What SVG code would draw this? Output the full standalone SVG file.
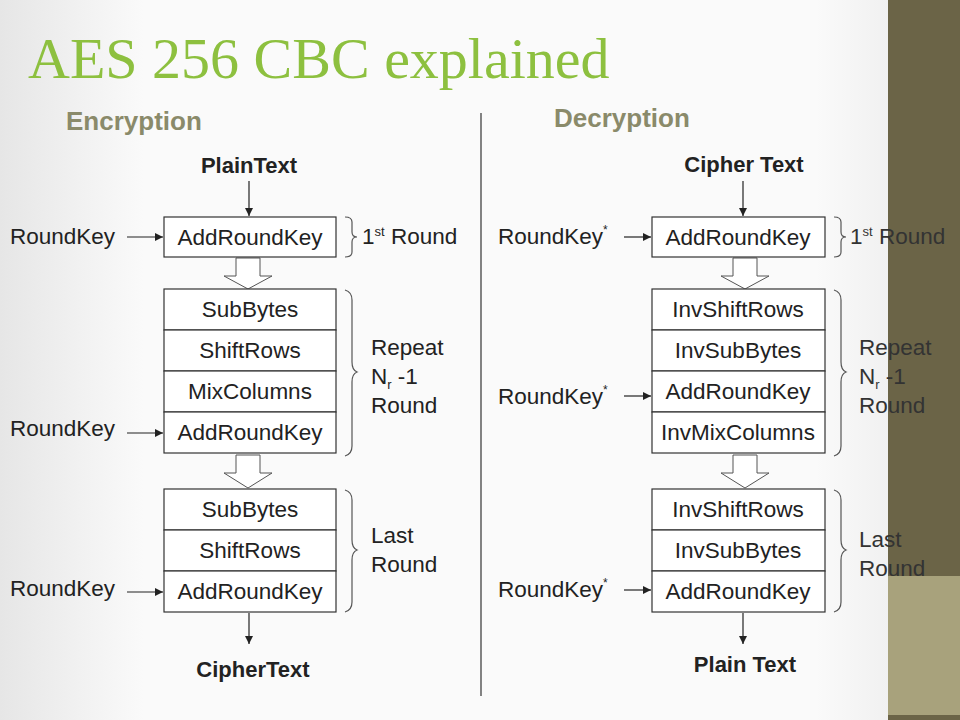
<svg xmlns="http://www.w3.org/2000/svg" width="960" height="720" viewBox="0 0 960 720" font-family="Liberation Sans, Arial, sans-serif">
<defs>
<linearGradient id="bg" x1="0" x2="1" y1="0" y2="0"><stop offset="0" stop-color="#e6e6e6"/><stop offset="0.15" stop-color="#fafafa"/><stop offset="0.85" stop-color="#fafafa"/><stop offset="1" stop-color="#e8e8e8"/></linearGradient>
<marker id="ah" viewBox="0 0 10 10" refX="10" refY="5" markerWidth="8" markerHeight="8" markerUnits="userSpaceOnUse" orient="auto"><path d="M0,0 L10,5 L0,10 z" fill="#222"/></marker>
</defs>
<style>
text{font-family:'Liberation Sans',Arial,sans-serif;fill:#222;font-size:22.5px}
.b{fill:#fff;stroke:#333;stroke-width:1.2}
.c{text-anchor:middle}
.h{font-weight:bold;font-size:22px}
.sec{font-weight:bold;font-size:26px;fill:#8a8a6a}
.br{fill:none;stroke:#555;stroke-width:1.2}
.ln{stroke:#222;stroke-width:1.2;fill:none}
.ha{fill:#fff;stroke:#555;stroke-width:1}
</style>
<rect width="960" height="720" fill="url(#bg)"/>
<rect x="888" y="0" width="72" height="576" fill="#6b6447"/>
<rect x="888" y="576" width="72" height="139" fill="#a8a27c"/>
<rect x="888" y="715" width="72" height="5" fill="#6b6447"/>
<text x="28" y="78" style="font-family:'Liberation Serif',serif;font-size:58px;fill:#8dc03f">AES 256 CBC explained</text>
<text x="66" y="130" class="sec">Encryption</text>
<text x="554" y="127" class="sec">Decryption</text>
<line x1="481" y1="113" x2="481" y2="696" stroke="#333" stroke-width="1.2"/>
<text x="249" y="173" class="c h">PlainText</text>
<text x="253" y="677" class="c h">CipherText</text>
<text x="744" y="172" class="c h">Cipher Text</text>
<text x="745" y="672" class="c h">Plain Text</text>
<g id="connectors">
<line class="ln" x1="249" y1="181" x2="249" y2="216" marker-end="url(#ah)"/>
<line class="ln" x1="249" y1="613" x2="249" y2="644" marker-end="url(#ah)"/>
<line class="ln" x1="743" y1="181" x2="743" y2="216" marker-end="url(#ah)"/>
<line class="ln" x1="743" y1="613" x2="743" y2="644" marker-end="url(#ah)"/>
<line class="ln" x1="127" y1="237" x2="163" y2="237" marker-end="url(#ah)"/>
<line class="ln" x1="127" y1="433" x2="163" y2="433" marker-end="url(#ah)"/>
<line class="ln" x1="127" y1="592" x2="163" y2="592" marker-end="url(#ah)"/>
<line class="ln" x1="624" y1="237" x2="651" y2="237" marker-end="url(#ah)"/>
<line class="ln" x1="624" y1="396" x2="651" y2="396" marker-end="url(#ah)"/>
<line class="ln" x1="624" y1="590" x2="651" y2="590" marker-end="url(#ah)"/>
<path class="ha" d="M236,258 V276 H224 L248,289 L272,276 H260 V258 Z"/>
<path class="ha" d="M236,455 V473 H224 L248,488 L272,473 H260 V455 Z"/>
<path class="ha" d="M733,258 V276 H721 L745,289 L769,276 H757 V258 Z"/>
<path class="ha" d="M733,455 V473 H721 L745,488 L769,473 H757 V455 Z"/>
</g>
<g id="enc-labels">
<text x="10" y="244">RoundKey</text>
<text x="10" y="436">RoundKey</text>
<text x="10" y="596">RoundKey</text>
</g>
<g id="enc1"><rect class="b" x="164" y="217" width="172" height="40"/><text x="250" y="245" class="c">AddRoundKey</text></g>
<g id="enc2">
<rect class="b" x="164" y="289" width="172" height="41"/><text x="250" y="317" class="c">SubBytes</text>
<rect class="b" x="164" y="330" width="172" height="41"/><text x="250" y="358" class="c">ShiftRows</text>
<rect class="b" x="164" y="371" width="172" height="41"/><text x="250" y="399" class="c">MixColumns</text>
<rect class="b" x="164" y="412" width="172" height="41"/><text x="250" y="440" class="c">AddRoundKey</text>
</g>
<g id="enc3">
<rect class="b" x="164" y="489" width="172" height="41"/><text x="250" y="517" class="c">SubBytes</text>
<rect class="b" x="164" y="530" width="172" height="41"/><text x="250" y="558" class="c">ShiftRows</text>
<rect class="b" x="164" y="571" width="172" height="41"/><text x="250" y="599" class="c">AddRoundKey</text>
</g>
<g id="enc-braces">
<path class="br" d="M345,217 Q352,217 352,222 V232 Q352,237 357,237 Q352,237 352,242 V252 Q352,257 345,257"/>
<path class="br" d="M345,290 Q352,292 352,300 V362 Q352,370 357,372 Q352,374 352,382 V446 Q352,454 345,456"/>
<path class="br" d="M345,490 Q352,492 352,500 V540 Q352,548 357,550 Q352,552 352,560 V602 Q352,610 345,612"/>
<text x="362" y="244">1<tspan font-size="13" dy="-8">st</tspan><tspan dy="8"> Round</tspan></text>
<text x="371" y="355">Repeat</text>
<text x="371" y="384">N<tspan font-size="13" dy="5">r</tspan><tspan dy="-5"> -1</tspan></text>
<text x="371" y="413">Round</text>
<text x="371" y="543">Last</text>
<text x="371" y="572">Round</text>
</g>
<g id="dec-labels">
<text x="498" y="244">RoundKey<tspan font-size="12" dy="-10">*</tspan></text>
<text x="498" y="404">RoundKey<tspan font-size="12" dy="-10">*</tspan></text>
<text x="498" y="597">RoundKey<tspan font-size="12" dy="-10">*</tspan></text>
</g>
<g id="dec1"><rect class="b" x="652" y="217" width="173" height="40"/><text x="738" y="245" class="c">AddRoundKey</text></g>
<g id="dec2">
<rect class="b" x="652" y="289" width="173" height="41"/><text x="738" y="317" class="c">InvShiftRows</text>
<rect class="b" x="652" y="330" width="173" height="41"/><text x="738" y="358" class="c">InvSubBytes</text>
<rect class="b" x="652" y="371" width="173" height="41"/><text x="738" y="399" class="c">AddRoundKey</text>
<rect class="b" x="652" y="412" width="173" height="41"/><text x="738" y="440" class="c">InvMixColumns</text>
</g>
<g id="dec3">
<rect class="b" x="652" y="489" width="173" height="41"/><text x="738" y="517" class="c">InvShiftRows</text>
<rect class="b" x="652" y="530" width="173" height="41"/><text x="738" y="558" class="c">InvSubBytes</text>
<rect class="b" x="652" y="571" width="173" height="41"/><text x="738" y="599" class="c">AddRoundKey</text>
</g>
<g id="dec-braces">
<path class="br" d="M834,217 Q841,217 841,222 V232 Q841,237 846,237 Q841,237 841,242 V252 Q841,257 834,257"/>
<path class="br" d="M834,290 Q841,292 841,300 V362 Q841,370 846,372 Q841,374 841,382 V446 Q841,454 834,456"/>
<path class="br" d="M834,490 Q841,492 841,500 V540 Q841,548 846,550 Q841,552 841,560 V602 Q841,610 834,612"/>
<text x="850" y="244" style="fill:#333">1<tspan font-size="13" dy="-8">st</tspan><tspan dy="8"> Round</tspan></text>
<text x="859" y="355" style="fill:#333">Repeat</text>
<text x="859" y="384" style="fill:#333">N<tspan font-size="13" dy="5">r</tspan><tspan dy="-5"> -1</tspan></text>
<text x="859" y="413" style="fill:#333">Round</text>
<text x="859" y="547" style="fill:#333">Last</text>
<text x="859" y="576" style="fill:#333">Round</text>
</g>
</svg>
